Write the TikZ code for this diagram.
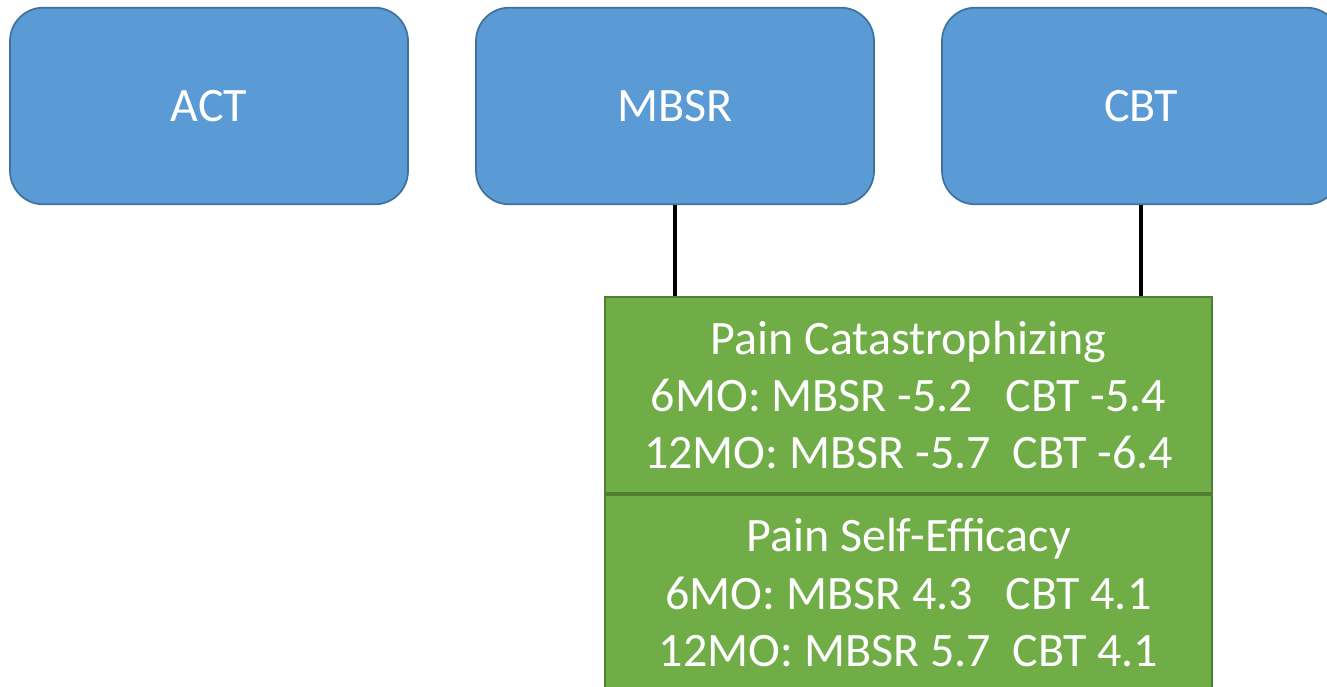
\documentclass[tikz,border=0pt]{standalone}
\usepackage{fontspec}
\setmainfont{Carlito}
\definecolor{bluefill}{HTML}{5B9BD5}
\definecolor{blueedge}{HTML}{41719C}
\definecolor{greenfill}{HTML}{70AD47}
\definecolor{greenedge}{HTML}{507E32}
\begin{document}
\begin{tikzpicture}[x=0.75pt,y=-0.75pt,
  bluebox/.style={draw=blueedge,fill=bluefill,line width=1.3pt,rounded corners=25pt,
    minimum width=298.5pt,minimum height=147.5pt,text=white,inner sep=0pt,
    font=\fontsize{36}{43}\selectfont},
  greenbox/.style={draw=greenedge,fill=greenfill,line width=1.3pt,
    minimum width=455pt,minimum height=147pt,text=white,inner sep=0pt,align=center,
    font=\fontsize{36}{43}\selectfont},
  link/.style={draw=black,line width=2.6pt}]
\useasboundingbox (0,0) rectangle (1327,686);
\clip (0,0) rectangle (1327,686);
\node[bluebox] (act) at (209,106) {ACT};
\node[bluebox] (mbsr) at (675,106) {MBSR};
\node[bluebox] (cbt) at (1141,106) {CBT};
\node[greenbox] (pc) at (908.5,395) {Pain Catastrophizing\\6MO: MBSR -5.2~~~CBT -5.4\\12MO: MBSR -5.7~~CBT -6.4};
\node[greenbox,anchor=north] (pse) at (pc.south) {Pain Self-Efficacy\\6MO: MBSR 4.3~~~CBT 4.1\\12MO: MBSR 5.7~~CBT 4.1};
\draw[link] (mbsr.south) -- (mbsr.south |- pc.north);
\draw[link] (cbt.south) -- (cbt.south |- pc.north);
\end{tikzpicture}
\end{document}
